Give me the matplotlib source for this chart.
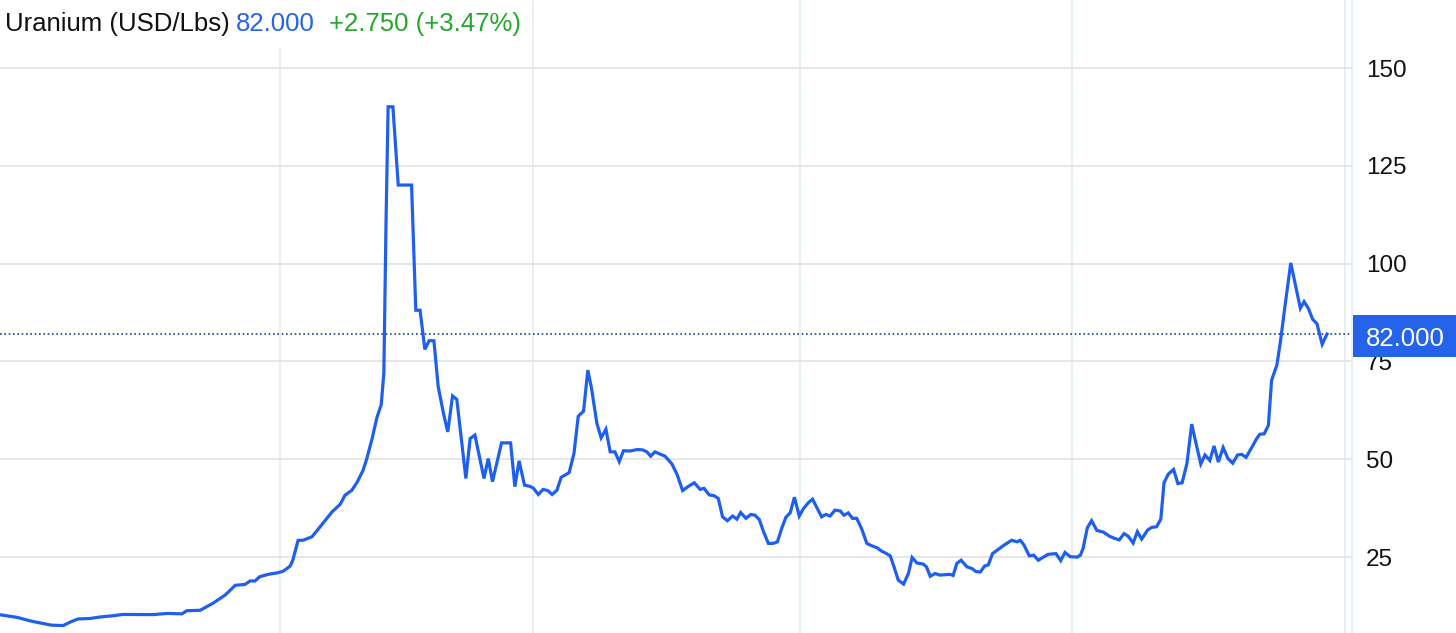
import matplotlib
matplotlib.use("Agg")
import matplotlib.pyplot as plt
import matplotlib.transforms as mtransforms
from matplotlib.patches import Rectangle

# uranium spot price, USD/lb, x = fractional year
years = [
    1999.77, 2000.06, 2000.34, 2000.49, 2000.71, 2000.93, 2001.06, 2001.21, 2001.43, 2001.62,
    2001.86, 2002.05, 2002.62, 2002.88, 2003.16, 2003.25, 2003.50, 2003.74, 2003.97, 2004.16,
    2004.34, 2004.44, 2004.53, 2004.62, 2004.78, 2004.96, 2005.06, 2005.19, 2005.24, 2005.34,
    2005.43, 2005.60, 2005.75, 2005.98, 2006.13, 2006.22, 2006.35, 2006.45, 2006.56, 2006.63,
    2006.73, 2006.82, 2006.90, 2006.95, 2006.99, 2007.03, 2007.12, 2007.22, 2007.47, 2007.55,
    2007.63, 2007.72, 2007.80, 2007.89, 2007.97, 2008.07, 2008.15, 2008.24, 2008.32, 2008.49,
    2008.57, 2008.66, 2008.83, 2008.91, 2008.99, 2009.16, 2009.33, 2009.41, 2009.49, 2009.59,
    2009.69, 2009.76, 2009.85, 2009.94, 2010.03, 2010.11, 2010.20, 2010.28, 2010.43, 2010.52,
    2010.60, 2010.70, 2010.78, 2010.85, 2010.95, 2011.03, 2011.12, 2011.20, 2011.29, 2011.37,
    2011.45, 2011.57, 2011.71, 2011.81, 2011.89, 2011.96, 2012.04, 2012.14, 2012.23, 2012.36,
    2012.46, 2012.56, 2012.67, 2012.78, 2012.89, 2012.96, 2013.06, 2013.15, 2013.23, 2013.31,
    2013.40, 2013.50, 2013.58, 2013.65, 2013.75, 2013.84, 2013.92, 2014.00, 2014.08, 2014.17,
    2014.26, 2014.34, 2014.42, 2014.50, 2014.58, 2014.66, 2014.75, 2014.83, 2014.92, 2015.00,
    2015.08, 2015.17, 2015.25, 2015.33, 2015.42, 2015.52, 2015.59, 2015.67, 2015.75, 2015.83,
    2015.92, 2016.02, 2016.11, 2016.21, 2016.30, 2016.39, 2016.46, 2016.53, 2016.61, 2016.71,
    2016.80, 2016.87, 2016.96, 2017.08, 2017.14, 2017.21, 2017.30, 2017.39, 2017.58, 2017.64,
    2017.71, 2017.79, 2017.90, 2017.99, 2018.07, 2018.15, 2018.23, 2018.30, 2018.38, 2018.49,
    2018.60, 2018.74, 2018.84, 2018.90, 2018.97, 2019.07, 2019.15, 2019.24, 2019.42, 2019.57,
    2019.66, 2019.74, 2019.84, 2019.97, 2020.03, 2020.08, 2020.16, 2020.24, 2020.34, 2020.46,
    2020.58, 2020.67, 2020.76, 2020.85, 2020.93, 2021.02, 2021.10, 2021.18, 2021.29, 2021.37,
    2021.46, 2021.54, 2021.60, 2021.68, 2021.78, 2021.86, 2021.94, 2022.03, 2022.12, 2022.20,
    2022.29, 2022.37, 2022.46, 2022.54, 2022.62, 2022.71, 2022.80, 2022.89, 2022.98, 2023.06,
    2023.14, 2023.23, 2023.34, 2023.40, 2023.48, 2023.56, 2023.62, 2023.72, 2023.79, 2023.87,
    2023.98, 2024.06, 2024.16, 2024.23, 2024.31, 2024.39, 2024.47, 2024.57, 2024.66,
]
prices = [
    10.2, 9.6, 8.6, 8.2, 7.6, 7.5, 8.4, 9.2, 9.3, 9.7,
    10.0, 10.35, 10.3, 10.6, 10.5, 11.3, 11.4, 13.2, 15.3, 17.8,
    18.0, 18.9, 18.9, 20.0, 20.6, 21.0, 21.4, 22.7, 24.2, 29.3,
    29.3, 30.2, 32.7, 36.6, 38.5, 40.8, 42.1, 44.2, 47.2, 50.2,
    55.3, 60.7, 63.9, 72.0, 110.0, 140.1, 140.1, 120.1, 120.1, 88.1,
    88.1, 78.1, 80.3, 80.3, 68.6, 61.7, 57.0, 66.2, 65.3, 45.1,
    55.3, 56.2, 45.1, 50.2, 44.3, 54.2, 54.2, 43.0, 49.6, 43.4,
    43.1, 42.6, 41.0, 42.3, 42.0, 41.0, 42.1, 45.4, 46.6, 51.5,
    61.0, 62.3, 72.8, 68.1, 59.2, 55.5, 57.7, 51.9, 51.9, 49.4,
    52.2, 52.1, 52.5, 52.4, 51.9, 50.8, 51.9, 51.3, 50.8, 48.8,
    46.0, 42.0, 43.1, 44.0, 42.3, 42.6, 40.9, 40.7, 40.0, 35.3,
    34.3, 35.5, 34.7, 36.4, 34.9, 35.9, 35.7, 34.6, 31.5, 28.5,
    28.5, 28.9, 32.3, 35.2, 36.3, 40.3, 35.5, 37.4, 38.9, 39.8,
    37.7, 35.3, 35.9, 35.5, 37.0, 36.8, 35.7, 36.3, 34.9, 34.9,
    32.3, 28.5, 27.9, 27.4, 26.5, 25.9, 25.3, 22.5, 19.1, 18.1,
    20.8, 24.9, 23.5, 23.2, 22.5, 20.1, 20.8, 20.4, 20.6, 20.3,
    23.4, 24.2, 22.5, 22.1, 21.3, 21.2, 22.7, 23.0, 25.9, 27.0,
    28.1, 29.3, 28.9, 29.3, 28.1, 25.3, 25.5, 24.2, 25.7, 25.9,
    24.1, 26.2, 25.1, 25.0, 25.5, 27.2, 32.5, 34.3, 31.8, 31.4,
    30.3, 29.8, 29.4, 31.0, 30.3, 28.6, 31.5, 29.6, 31.9, 32.6,
    32.75, 34.7, 44.0, 46.2, 47.4, 43.8, 44.0, 48.9, 59.0, 54.1,
    48.8, 51.1, 49.7, 53.4, 49.3, 53.0, 50.2, 49.0, 51.1, 51.25,
    50.5, 52.6, 55.3, 56.4, 56.5, 58.7, 70.2, 74.1, 80.5, 89.0,
    100.2, 95.0, 88.6, 90.3, 88.6, 85.8, 84.7, 79.4, 82.0,
]
last_price = 82.000
change = 2.750
change_pct = 3.47

y_ticks = [25, 50, 75, 100, 125, 150]
x_grid = [2005.0, 2009.75, 2014.77, 2019.87, 2025.0]

line_blue = "#1f5ff0"
label_blue = "#2563eb"
green = "#22a82a"

plt.rcParams["font.family"] = ["Liberation Sans", "DejaVu Sans"]

W, H = 1456, 633
fig = plt.figure(figsize=(W / 100, H / 100), dpi=100)
ax_w = 1352 / W
ax = fig.add_axes([0, 0, ax_w, 1])

ax.plot(years, prices, color=line_blue, lw=2.3, solid_joinstyle="miter", zorder=3)
ax.axhline(last_price, color="#1d3f9a", lw=1.2, ls=(0, (1, 1.6)), zorder=2)

ax.set_xlim(1999.742, 2025.13)
ax.set_ylim(5.6, 167.4)

ax.set_yticks(y_ticks)
ax.set_xticks(x_grid)
ax.yaxis.tick_right()
ax.tick_params(axis="y", length=0, pad=10, labelsize=17.5, labelcolor="#111111")
ax.tick_params(axis="x", length=0, labelbottom=False)
ax.grid(axis="y", color="#e1e3e6", lw=1.2, zorder=0)
ax.grid(axis="x", color="#e3edf4", lw=1.2, zorder=0)
for s in ["left", "top", "bottom"]:
    ax.spines[s].set_visible(False)
ax.spines["right"].set_color("#e3edf4")
ax.spines["right"].set_linewidth(1.2)

# price tag on the right axis: fills from the axis edge to the figure edge
trans = mtransforms.blended_transform_factory(fig.transFigure, ax.transData)
tag_half = 21 / 633 * (167.4 - 5.6)
tag_mid = last_price - 0.5
ax.add_patch(Rectangle((ax_w + 1 / W, tag_mid - tag_half), 1 - ax_w, 2 * tag_half,
                       transform=trans, fc=label_blue, ec="none", clip_on=False, zorder=10))
ax.text((ax_w + 1) / 2 + 1 / W, tag_mid, f"{last_price:.3f}", transform=trans, ha="center",
        va="center_baseline", fontsize=18.5, color="white", clip_on=False, zorder=11)

# header
fig.add_artist(Rectangle((0, 1 - 48 / H), 525 / W, 48 / H, transform=fig.transFigure,
                         fc="white", ec="none", zorder=2.5))
ty = 1 - 24 / H
fig.text(5 / W, ty, "Uranium (USD/Lbs)", fontsize=18.5, color="#111111", va="center")
fig.text(236 / W, ty, f"{last_price:.3f}", fontsize=18.5, color=label_blue, va="center")
fig.text(329 / W, ty, f"+{change:.3f} (+{change_pct:.2f}%)", fontsize=18.5, color=green, va="center")

fig.savefig("out.png", dpi=100)
